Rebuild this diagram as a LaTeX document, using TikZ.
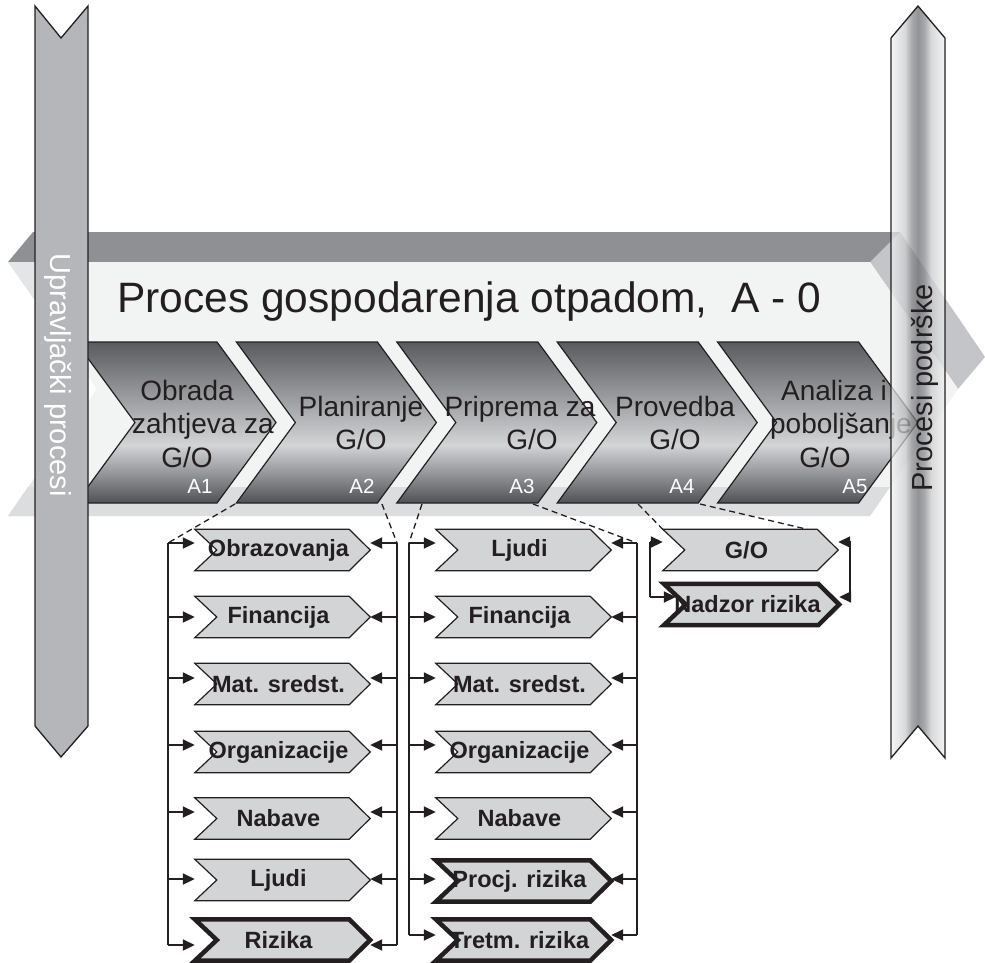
\documentclass[tikz,border=0pt]{standalone}
\usepackage{fontspec}
\setmainfont{Liberation Sans}
\usetikzlibrary{arrows.meta}
\pgfdeclarelayer{boxes}
\pgfsetlayers{boxes,main}

\definecolor{ink}{HTML}{231F20}
\definecolor{banddark}{HTML}{8F9093}
\definecolor{bandside}{HTML}{C4C5C8}
\definecolor{bandface}{HTML}{F2F3F3}
\definecolor{bandleft}{HTML}{E4E5E6}
\definecolor{bandlow}{HTML}{DCDDDF}
\definecolor{ctrlbar}{HTML}{B5B6B9}
\definecolor{chtop}{HTML}{5A5B5F}
\definecolor{chmid}{HTML}{D3D4D6}
\definecolor{chlow}{HTML}{8C8D91}
\definecolor{chbot}{HTML}{505155}
\definecolor{subfill}{HTML}{D3D4D6}
\definecolor{supedge}{HTML}{F0F0F0}
\definecolor{supmid}{HTML}{C9CACB}
\definecolor{supdeep}{HTML}{87888C}
\definecolor{supcore}{HTML}{696A6E}

% shading of the five process chevrons (path box maps to 25bp..75bp)
\pgfdeclareverticalshading{chevshade}{100bp}{color(0bp)=(chbot); color(25bp)=(chbot); color(33bp)=(chlow); color(43bp)=(chmid); color(75bp)=(chtop); color(100bp)=(chtop)}
% cylinder-like shading of the support bar
\pgfdeclarehorizontalshading{supshade}{100bp}{color(0bp)=(supedge); color(25bp)=(supedge); color(38bp)=(supmid); color(44bp)=(supdeep); color(50bp)=(supcore); color(56bp)=(supdeep); color(62bp)=(supmid); color(75bp)=(supedge); color(100bp)=(supedge)}

\begin{document}
\begin{tikzpicture}[x=1pt, y=-1pt, line join=miter,
  outline/.style={draw=ink, line width=1.2pt},
  arr/.style={draw=ink, line width=1.8pt, -{Triangle[length=12pt,width=11pt]}},
  link/.style={draw=ink, line width=1.8pt},
  zoomline/.style={draw=ink, line width=1.3pt, dash pattern=on 6pt off 4pt},
  chevtext/.style={font=\fontsize{28}{33.5}\selectfont, text=ink, align=center, inner sep=0pt},
  numtext/.style={font=\fontsize{20.5}{24}\selectfont, text=white, anchor=base, inner sep=0pt},
  bartext/.style={font=\fontsize{29}{34}\selectfont, anchor=base, inner sep=0pt},
  subbox/.style={minimum width=175pt, minimum height=41pt, inner sep=0pt,
    font=\bfseries\fontsize{23.5}{28}\selectfont, text=ink,
    execute at end node={\hspace*{8pt}}},
  ]
\useasboundingbox (0,0) rectangle (985,962);

% ---- the main process band (extruded chevron) ----
\fill[bandside] (870,262) -- (900,232) -- (985,357) -- (958,389) -- cycle;
\fill[banddark] (8,262) -- (33,232) -- (900,232) -- (870,262) -- cycle;
\fill[bandface] (8,262) -- (870,262) -- (958,389) -- (870,516) -- (8,516) -- (97,389) -- cycle;
\fill[bandleft] (8,262) -- (88,262) -- (88,376) -- cycle;
\fill[bandleft] (88,402) -- (88,516) -- (8,516) -- cycle;
\fill[bandlow] (28,487) -- (890,487) -- (870,516) -- (8,516) -- cycle;

\node[font=\fontsize{42.5}{50}\selectfont, text=ink, anchor=base west, inner sep=0pt]
  (title) at (117,312) {Proces gospodarenja otpadom,\ \ A - 0};

% ---- process chevrons A1..A5 ----
\foreach \i in {0,...,4} {
  \pgfmathsetmacro\L{76+160.4*\i}
  \shadedraw[shading=chevshade, outline]
    (\L,342) -- (\L+141,342) -- (\L+200,422.5) -- (\L+141,503) -- (\L,503) -- (\L+59,422.5) -- cycle;
}
\node[chevtext] (a1) at (203,423.5) {Obrada\hspace*{32pt}\\zahtjeva za\\G/O\hspace*{32pt}};
\node[chevtext] (a2) at (361,423) {Planiranje\\G/O};
\node[chevtext] (a3) at (520,423) {Priprema za\\\hspace*{24pt}G/O};
\node[chevtext] (a4) at (675,423) {Provedba\\G/O};
\node[chevtext] (a5) at (841,423.5) {Analiza i\hspace*{14pt}\\poboljšanje\\G/O\hspace*{32pt}};
\node[numtext] (n1) at (200,493) {A1};
\node[numtext] (n2) at (362,493) {A2};
\node[numtext] (n3) at (522,493) {A3};
\node[numtext] (n4) at (682,493) {A4};
\node[numtext] (n5) at (855,493) {A5};

% ---- control processes bar ----
\draw[fill=ctrlbar, draw=ink, line width=1.3pt]
  (35,6) -- (61,38) -- (88,6) -- (88,726) -- (61,757) -- (35,726) -- cycle;
\node[bartext, text=white, rotate=-90] (ctrl) at (50,375) {Upravljački procesi};

% ---- sub-activity boxes ----
\node[subbox] (l1) at (282.5,550)   {Obrazovanja};
\node[subbox] (l2) at (282.5,617)   {Financija};
\node[subbox] (l3) at (282.5,684)   {Mat. sredst.};
\node[subbox] (l4) at (282.5,752)   {Organizacije};
\node[subbox] (l5) at (282.5,818.5) {Nabave};
\node[subbox] (l6) at (282.5,880)   {Ljudi};
\node[subbox] (l7) at (282.5,940)   {Rizika};

\node[subbox] (r1) at (523.5,550)   {Ljudi};
\node[subbox] (r2) at (523.5,617)   {Financija};
\node[subbox] (r3) at (523.5,684)   {Mat. sredst.};
\node[subbox] (r4) at (523.5,752)   {Organizacije};
\node[subbox] (r5) at (523.5,818.5) {Nabave};
\node[subbox] (r6) at (523.5,881)   {Procj. rizika};
\node[subbox] (r7) at (523.5,940)   {Tretm. rizika};

\node[subbox] (g1) at (750.5,550)   {G/O};
\node[subbox] (g2) at (751.5,604.5) {Nadzor rizika};

\begin{pgfonlayer}{boxes}
  \foreach \n in {l1,l2,l3,l4,l5,l6,r1,r2,r3,r4,r5,g1} {
    \draw[outline, fill=subfill] (\n.north west) -- ([xshift=-21pt]\n.north east) -- (\n.east)
      -- ([xshift=-21pt]\n.south east) -- (\n.south west) -- ([xshift=22pt]\n.west) -- cycle;
  }
  \foreach \n in {l7,r6,r7,g2} {
    \draw[draw=ink, line width=4.5pt, fill=subfill] (\n.north west) -- ([xshift=-21pt]\n.north east) -- (\n.east)
      -- ([xshift=-21pt]\n.south east) -- (\n.south west) -- ([xshift=22pt]\n.west) -- cycle;
  }
\end{pgfonlayer}

% ---- connectors of the A2 list ----
\coordinate (lt) at (168,543);
\coordinate (lb) at (168,945);
\coordinate (rt) at (397,543);
\coordinate (rb) at (397,945);
\draw[link] (lt) -- (lb);
\draw[link] (rt) -- (rb);
\foreach \n/\y in {l1/543, l2/617, l3/678, l4/745, l5/812, l6/879, l7/945} {
  \coordinate (p\n) at (168,\y);
  \coordinate (q\n) at (397,\y);
  \draw[arr] (p\n) -- (p\n -| \n.west);
  \draw[arr] (q\n) -- (q\n -| \n.east);
}

% ---- connectors of the A3 list ----
\coordinate (mt) at (409,543);
\coordinate (mb) at (409,935);
\coordinate (nt) at (637,543);
\coordinate (nb) at (637,935);
\draw[link] (mt) -- (mb);
\draw[link] (nt) -- (nb);
\foreach \n/\y in {r1/543, r2/617, r3/678, r4/745, r5/812, r6/879, r7/935} {
  \coordinate (p\n) at (409,\y);
  \coordinate (q\n) at (637,\y);
  \draw[arr] (p\n) -- (p\n -| \n.west);
  \draw[arr] (q\n) -- (q\n -| \n.east);
}

% ---- connectors of the A4 list ----
\coordinate (gt) at (650,542);
\coordinate (gb) at (650,597);
\coordinate (ht) at (850,542);
\coordinate (hb) at (850,597);
\draw[link] (gt) -- (gb);
\draw[link] (ht) -- (hb);
\draw[arr] (gt) -- (gt -| g1.west);
\draw[arr] (gb) -- ([xshift=12pt]gb -| g2.west);
\draw[arr] (ht) -- (ht -| g1.east);
\draw[arr] (hb) -- (hb -| g2.east);

% ---- dashed expansion lines ----
\coordinate (a2foot) at (235,504);
\coordinate (a2heel) at (382,504);
\coordinate (a3foot) at (422,504);
\coordinate (a3heel) at (533,504);
\coordinate (a4foot) at (638,504);
\coordinate (a4heel) at (700,504);
\draw[zoomline] (a2foot) -- (lt);
\draw[zoomline] (a2heel) -- (rt);
\draw[zoomline] (a3foot) -- (mt);
\draw[zoomline] (a3heel) -- (nt);
\draw[zoomline] (a4foot) -- (g1.north west);
\draw[zoomline] (a4heel) -- ([xshift=-31pt]g1.north east);

% ---- support processes bar (translucent) ----
\shadedraw[shading=supshade, fill opacity=0.72, draw=ink, line width=1.3pt]
  (891,38) -- (918,6) -- (945,38) -- (945,758) -- (918,726) -- (891,758) -- cycle;
\node[bartext, text=ink, rotate=90] (supp) at (932,388) {Procesi podrške};

\end{tikzpicture}
\end{document}
